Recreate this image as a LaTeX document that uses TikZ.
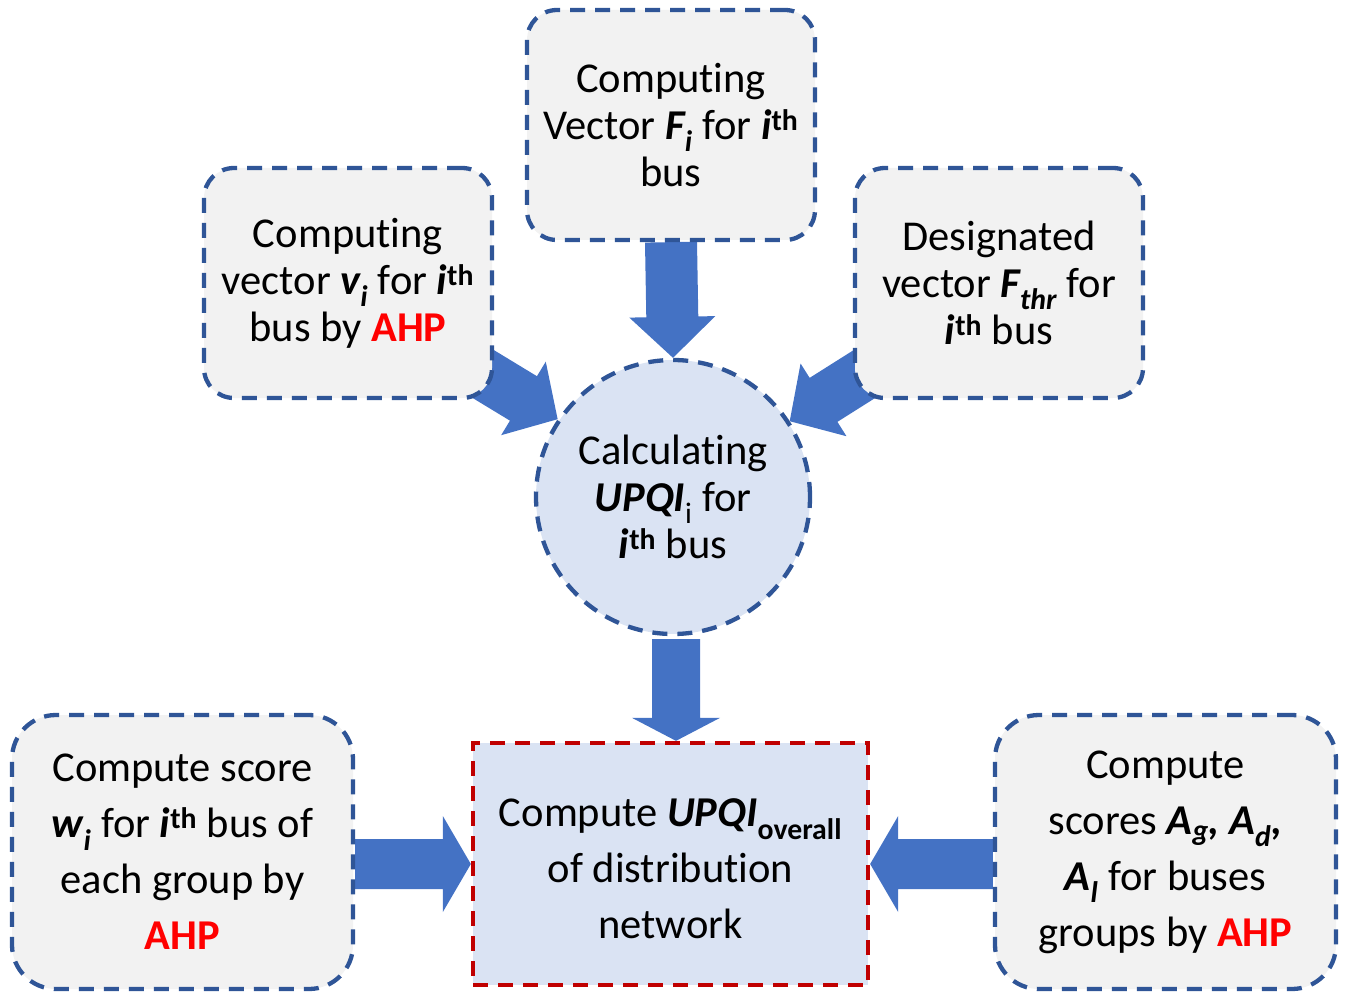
\documentclass[tikz,border=0pt]{standalone}
\usepackage{fontspec}
\setmainfont{Carlito}[Ligatures=NoCommon]
\usetikzlibrary{calc,backgrounds}
\definecolor{boxgray}{HTML}{F2F2F2}
\definecolor{boxblue}{HTML}{DAE3F3}
\definecolor{edgeblue}{HTML}{2F5597}
\definecolor{edgered}{HTML}{C00000}
\definecolor{arrowblue}{HTML}{4472C4}
\definecolor{ahpred}{HTML}{FF0000}
\newcommand\bi[1]{{\bfseries\itshape #1}}
\newcommand\sth{\textsuperscript{\bfseries th}}
\newcommand\ahp{{\bfseries\color{ahpred}AHP}}
\newcommand\blockarr[5]{%
  \path ($(#2)!#5!(#1)$) coordinate (ba-hb);
  \fill[arrowfill] ($(#1)!#3!90:(#2)$) -- ($(ba-hb)!#3!90:(#2)$) -- ($(ba-hb)!#4!90:(#2)$) -- (#2)
    -- ($(ba-hb)!#4!-90:(#2)$) -- ($(ba-hb)!#3!-90:(#2)$) -- ($(#1)!#3!-90:(#2)$) -- cycle;}
\tikzset{
  dashline/.style={line width=4.3pt, dash pattern=on 15pt off 10pt},
  topbox/.style={draw=edgeblue, dashline, fill=boxgray, rounded corners=30pt,
    minimum width=288pt, minimum height=230pt, inner sep=0pt, align=center,
    font=\fontsize{42.5}{47}\selectfont},
  lowbox/.style={draw=edgeblue, dashline, fill=boxgray, rounded corners=44pt,
    minimum width=341pt, minimum height=274pt, inner sep=0pt, align=center,
    font=\fontsize{42.5}{56}\selectfont},
  circbox/.style={draw=edgeblue, dashline, fill=boxblue, circle, minimum size=274pt,
    inner sep=0pt, align=center, font=\fontsize{42.5}{47}\selectfont},
  resbox/.style={draw=edgered, dashline, fill=boxblue, minimum width=395pt,
    minimum height=242pt, inner sep=0pt, align=center, font=\fontsize{42.5}{56}\selectfont},
  arrowfill/.style={fill=arrowblue}
}
\begin{document}
\begin{tikzpicture}[x=1pt,y=-1pt]
\useasboundingbox (0,0) rectangle (1347,992);
\node[topbox] (fi) at (671,125) {Computing\\Vector \bi{F}\textsubscript{\bi{i}} for \bi{i}\sth\\bus};
\node[topbox] (vi) at (348,283) {Computing\\vector \bi{v}\textsubscript{\bi{i}} for \bi{i}\sth\\bus by \ahp};
\node[topbox] (fthr) at (999,283) {Designated\\vector \bi{F}\textsubscript{\bi{thr}} for\\\bi{i}\sth{} bus};
\node[circbox] (circ) at (673,497) {Calculating\\\bi{UPQI}\textsubscript{i} for\\\bi{i}\sth{} bus};
\node[resbox] (res) at (670.5,864) {\rule{0pt}{38pt}Compute \bi{UPQI}\textsubscript{\bfseries overall}\\of distribution\\network};
\node[lowbox] (wb) at (182.5,852) {Compute score\\\bi{w}\textsubscript{\bi{i}} for \bi{i}\sth{} bus of\\each group by\\\ahp};
\node[lowbox] (ab) at (1165.5,852) {Compute\\scores \bi{A}\textsubscript{\bi{g}}\bi{,} \bi{A}\textsubscript{\bi{d}}\bi{,}\\\bi{A}\textsubscript{\bi{l}} for buses\\groups by \ahp};
\coordinate (vt) at (470,366);
\coordinate (ft) at (874,368);
\path ($(circ.south)+(3,3)$) coordinate (cs);
\path (cs |- res.north) coordinate (rn);
\path (wb.east |- res.west) coordinate (we);
\path (ab.west |- res.east) coordinate (aw);
\begin{scope}[on background layer]
  \blockarr{fi.south}{circ.north}{26pt}{43pt}{41pt}
  \blockarr{vt}{circ.146}{26pt}{43pt}{40pt}
  \blockarr{ft}{circ.33}{26pt}{43pt}{40pt}
  \blockarr{cs}{rn}{24pt}{44pt}{23pt}
  \blockarr{we}{res.west}{25pt}{48pt}{28pt}
  \blockarr{aw}{res.east}{25pt}{48pt}{28pt}
\end{scope}
\end{tikzpicture}
\end{document}
